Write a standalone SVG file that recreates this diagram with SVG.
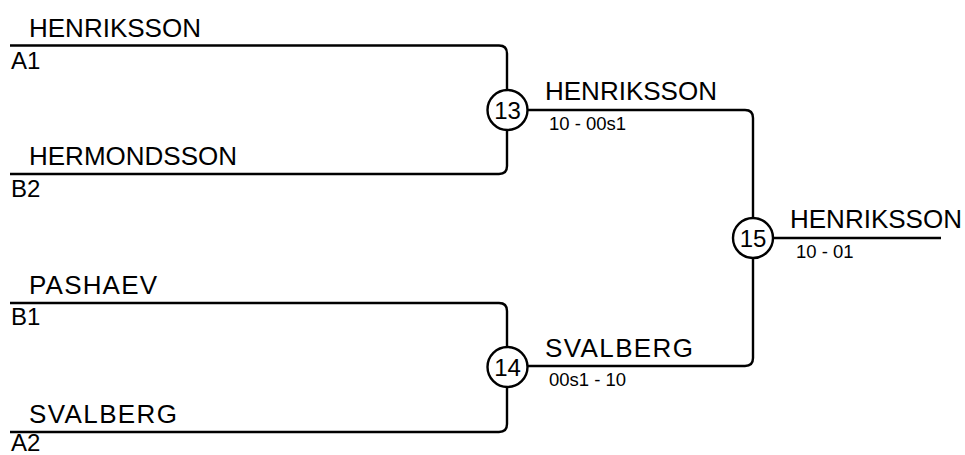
<svg xmlns="http://www.w3.org/2000/svg" width="965" height="455" viewBox="0 0 965 455">
<style>
.ln{fill:none;stroke:#000;stroke-width:2.4}
.cir{fill:#fff;stroke:#000;stroke-width:2.4}
.nm{font-family:"Liberation Sans",Arial,sans-serif;font-size:26px;fill:#000}
.sd{font-family:"Liberation Sans",Arial,sans-serif;font-size:24px;fill:#000}
.sc{font-family:"Liberation Sans",Arial,sans-serif;font-size:18.5px;fill:#000}
.num{font-family:"Liberation Sans",Arial,sans-serif;font-size:24px;fill:#000;text-anchor:middle}
</style>
<rect width="965" height="455" fill="#fff"/>
<g id="connectors">
<path class="ln" d="M10,45.5 H499 Q507,45.5 507,53.5 V166 Q507,174 499,174 H10"/>
<path class="ln" d="M10,303 H499 Q507,303 507,311 V424 Q507,432 499,432 H10"/>
<path class="ln" d="M507,110 H745 Q753,110 753,118 V358 Q753,366 745,366 H507"/>
<path class="ln" d="M753,238 H941"/>
</g>
<g id="entry-a1">
<text class="nm" x="29" y="37">HENRIKSSON</text>
<text class="sd" x="11" y="69">A1</text>
</g>
<g id="entry-b2">
<text class="nm" x="29" y="165">HERMONDSSON</text>
<text class="sd" x="11" y="197">B2</text>
</g>
<g id="entry-b1">
<text class="nm" x="29" y="294" textLength="128" lengthAdjust="spacing">PASHAEV</text>
<text class="sd" x="11" y="325">B1</text>
</g>
<g id="entry-a2">
<text class="nm" x="29" y="423" textLength="148" lengthAdjust="spacing">SVALBERG</text>
<text class="sd" x="11" y="451">A2</text>
</g>
<g id="match-13">
<circle class="cir" cx="507.5" cy="110" r="20"/>
<text class="num" x="507.5" y="118.5">13</text>
<text class="nm" x="545" y="100">HENRIKSSON</text>
<text class="sc" x="549" y="130">10 - 00s1</text>
</g>
<g id="match-14">
<circle class="cir" cx="507.5" cy="367" r="20"/>
<text class="num" x="507.5" y="375.5">14</text>
<text class="nm" x="545" y="357" textLength="148" lengthAdjust="spacing">SVALBERG</text>
<text class="sc" x="549" y="386">00s1 - 10</text>
</g>
<g id="match-15">
<circle class="cir" cx="753" cy="238" r="20"/>
<text class="num" x="753" y="246.5">15</text>
<text class="nm" x="790" y="228">HENRIKSSON</text>
<text class="sc" x="796" y="258">10 - 01</text>
</g>
</svg>
